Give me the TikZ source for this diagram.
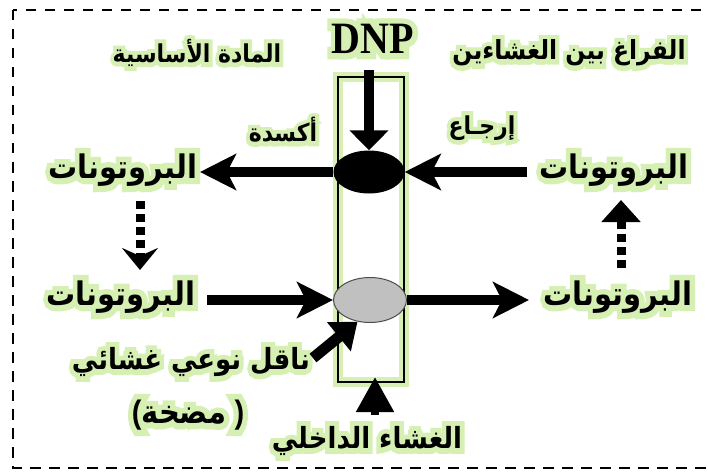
\documentclass[tikz,border=0pt]{standalone}
\usepackage{fontspec}
\usetikzlibrary{arrows.meta,calc,shapes.geometric}
\TeXXeTstate=1
\newfontfamily\arabicfont[Script=Arabic]{DejaVu Sans}
\newfontfamily\arabicglow[Script=Arabic,FakeBold=36]{DejaVu Sans}
\newfontfamily\latinfont{Liberation Sans}
\newfontfamily\latinglow[FakeBold=36]{Liberation Sans}
\newfontfamily\dnpfont{Liberation Serif}
\newfontfamily\dnpglow[FakeBold=26]{Liberation Serif}
\definecolor{glowB}{HTML}{D6F0B4}
\definecolor{ellgray}{HTML}{C0C0C0}
\tikzset{
  lbl/.style={inner sep=0pt},
  bigar/.style={font=\bfseries\fontsize{29}{33}\selectfont},
  carar/.style={font=\bfseries\fontsize{26}{30}\selectfont},
  midar/.style={font=\bfseries\fontsize{22}{26}\selectfont},
  shaft/.style={line width=10pt},
  barb/.style={-{Stealth[length=36pt,width=36pt,inset=9pt]}},
  dots/.style={line width=9pt, dash pattern=on 8pt off 5pt},
  membrane/.style={draw=black, line width=1.2pt, preaction={draw=glowB, line width=10pt}},
  border/.style={line width=2.2pt, dash pattern=on 10.5pt off 8.5pt}
}
\newcommand\ARF{}\newcommand\LAF{}\newcommand\DNF{}
\newcommand\glowlabel[4]{%
  \node[lbl,#3,text=glowB] (#1g) at (#2)
    {\let\ARF\arabicglow\let\LAF\latinglow\let\DNF\dnpglow\scalebox{1}[1.12]{#4}};
  \node[lbl,#3] (#1) at (#2)
    {\let\ARF\arabicfont\let\LAF\latinfont\let\DNF\dnpfont\scalebox{1}[1.12]{#4}};
}
\begin{document}
\begin{tikzpicture}[x=1pt,y=-1pt]
\useasboundingbox (0,0) rectangle (708,473);
\draw[border] (13,10) rectangle (716,468);

% membrane
\node[membrane, minimum width=66pt, minimum height=305pt, inner sep=0pt] (mem) at (371,229.5) {};

% labels
\glowlabel{base}{197,53}{midar}{\ARF\beginR المادة الأساسية\endR}
\glowlabel{space}{569,53}{font=\bfseries\fontsize{23.5}{27}\selectfont}{\ARF\beginR الفراغ بين الغشاءين\endR}
\glowlabel{ox}{283,130}{midar}{\ARF\beginR أكسدة\endR}
\glowlabel{red}{482,128}{midar}{\ARF\beginR إرجـاع\endR}
\glowlabel{pUL}{123,170}{bigar}{\ARF\beginR البروتونات\endR}
\glowlabel{pUR}{614,170}{bigar}{\ARF\beginR البروتونات\endR}
\glowlabel{pLL}{121,297}{bigar}{\ARF\beginR البروتونات\endR}
\glowlabel{pLR}{618,297}{bigar}{\ARF\beginR البروتونات\endR}
\glowlabel{carrier}{191,362}{carar}{\ARF\beginR ناقل نوعي غشائي\endR}
\glowlabel{pump}{188,415}{bigar}{\LAF(\ARF\beginR مضخة\endR\LAF\ )}
\glowlabel{inner}{367,441}{carar}{\ARF\beginR الغشاء الداخلي\endR}
\glowlabel{dnp}{373,39}{font=\bfseries\fontsize{40}{44}\selectfont}{\DNF DNP}

% ellipses
\node[ellipse, fill=black, minimum width=71pt, minimum height=43pt, inner sep=0pt] (blk) at (369,172) {};
\node[ellipse, fill=ellgray, draw=black!70, line width=1pt, minimum width=73pt, minimum height=45pt, inner sep=0pt] (gry) at (370,300) {};

% named free ends
\coordinate (dnpT) at (369,70);
\coordinate (ulTip) at (200,172);
\coordinate (urTail) at (527,172);
\coordinate (llTail) at (207,300);
\coordinate (lrTip) at (529,300);
\coordinate (ptTail) at (313,358);
\coordinate (memTail) at (375,415);
\coordinate (memTip) at (375,377);
\coordinate (ldTop) at (140,201);
\coordinate (ldTip) at (140,270);
\coordinate (rdTop) at (621,200);
\coordinate (rdBot) at (621,268);

% connectors
\draw[shaft, -{Triangle[length=20pt,width=38pt]}] (dnpT) -- (blk.north);
\draw[shaft, barb] (blk.west) -- (ulTip);
\draw[shaft, barb] (urTail) -- (blk.east);
\draw[shaft, barb] (llTail) -- (gry.west);
\draw[shaft, barb] (gry.east) -- (lrTip);
\draw[line width=11pt, -{Triangle[length=24pt,width=36pt]}] (ptTail) -- (gry.240);
\draw[line width=8pt, -{Triangle[length=35pt,width=36pt]}] (memTail) -- (memTip);
\draw[dots, -{Stealth[length=22pt,width=36pt,inset=8pt]}] (ldTop) -- (ldTip);
\draw[dots, -{Triangle[length=22pt,width=38pt]}] (rdBot) -- (rdTop);
\end{tikzpicture}
\end{document}
